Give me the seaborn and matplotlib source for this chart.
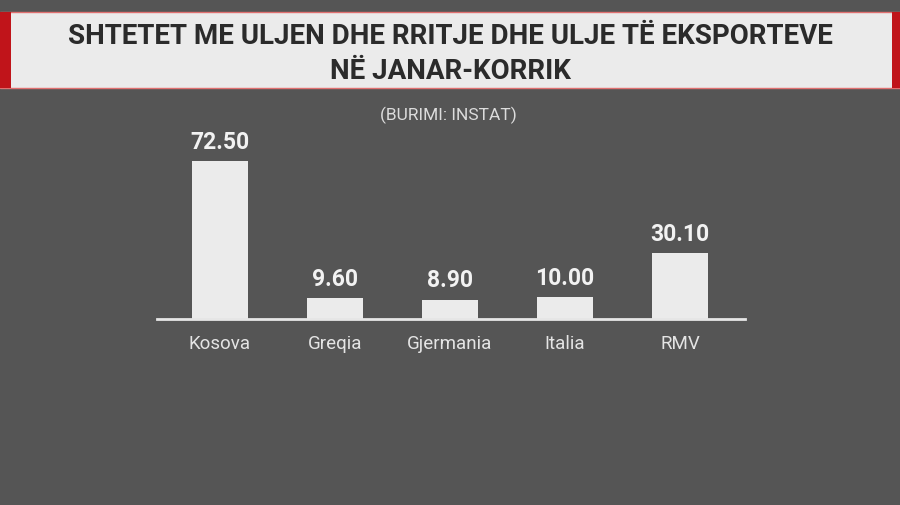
import matplotlib
matplotlib.use('Agg')
import matplotlib.pyplot as plt
from matplotlib.patches import Rectangle
import seaborn as sns

# data
countries = ['Kosova', 'Greqia', 'Gjermania', 'Italia', 'RMV']
exports = [72.50, 9.60, 8.90, 10.00, 30.10]
title_lines = 'SHTETET ME ULJEN DHE RRITJE DHE ULJE TË EKSPORTEVE\nNË JANAR-KORRIK'
source = '(BURIMI: INSTAT)'

BG = '#555555'
LIGHT = '#ebebeb'
RED = '#c0141a'

sns.set_theme(style='white')
plt.rcParams['font.family'] = ['Roboto', 'DejaVu Sans']

fig = plt.figure(figsize=(9, 5.06), dpi=100)
fig.patch.set_facecolor(BG)

# title banner with red edges
fig.add_artist(Rectangle((0, 1 - 89 / 506), 1, 76 / 506, transform=fig.transFigure,
                         facecolor=LIGHT, edgecolor='#e07070', linewidth=1))
fig.add_artist(Rectangle((0, 1 - 89 / 506), 11 / 900, 76 / 506, transform=fig.transFigure,
                         facecolor=RED, edgecolor='none'))
fig.add_artist(Rectangle((892 / 900, 1 - 89 / 506), 8 / 900, 76 / 506, transform=fig.transFigure,
                         facecolor=RED, edgecolor='none'))
fig.text(0.501, 1 - 54 / 506, title_lines, ha='center', va='center', fontsize=20,
         fontweight='bold', color='#2b2b2b', linespacing=1.42)
fig.text(0.498, 1 - 115 / 506, source, ha='center', va='center', fontsize=12.5,
         color='#dcdcdc')

ax = fig.add_axes([157 / 900, 186 / 506, 588 / 900, 220 / 506])
ax.set_facecolor('none')
sns.barplot(x=countries, y=exports, color=LIGHT, width=0.49, saturation=1,
            edgecolor='none', linewidth=0, ax=ax)

ax.bar_label(ax.containers[0], labels=[f'{v:.2f}' for v in exports], padding=6,
             fontsize=16.5, fontweight='bold', color='#f2f2f2')

ax.set_xlim(-0.548, 4.565)
ax.set_ylim(0, 100.96)
for s in ['top', 'right', 'left']:
    ax.spines[s].set_visible(False)
ax.spines['bottom'].set_color('#e6e6e6')
ax.spines['bottom'].set_linewidth(2)
ax.set_yticks([])
ax.set_xlabel('')
ax.set_ylabel('')
ax.tick_params(axis='x', length=0, pad=11, labelsize=13.5, labelcolor='#e4e4e4')

plt.savefig('out.png', dpi=100, facecolor=fig.get_facecolor())
